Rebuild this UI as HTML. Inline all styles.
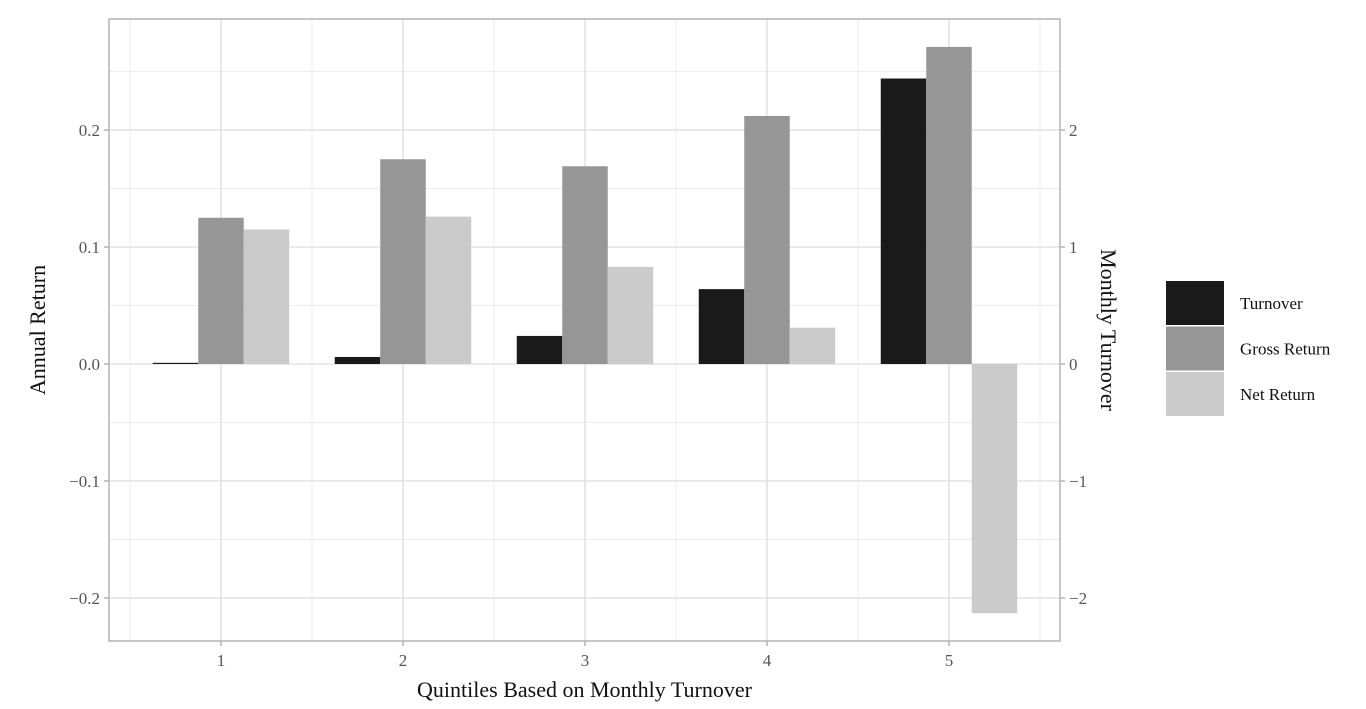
<!DOCTYPE html>
<html><head><meta charset="utf-8"><style>
body{margin:0;background:#fff;}
svg{display:block;font-family:"Liberation Serif",serif;}
</style></head><body>
<svg id="chart" width="1366" height="709" viewBox="0 0 1366 709"></svg>
<script>
const categories=["1","2","3","4","5"];
const turnover=[0.01,0.06,0.24,0.64,2.44];
const grossReturn=[0.125,0.175,0.169,0.212,0.271];
const netReturn=[0.115,0.126,0.083,0.031,-0.213];
const leftTicks=[-0.2,-0.1,0.0,0.1,0.2];
const leftTickLabels=["\u22120.2","\u22120.1","0.0","0.1","0.2"];
const rightTicks=[-2,-1,0,1,2];
const rightTickLabels=["\u22122","\u22121","0","1","2"];
const seriesNames=["Turnover","Gross Return","Net Return"];
const colors=["#1a1a1a","#969696","#cbcbcb"];
const NS="http://www.w3.org/2000/svg";
const svg=document.getElementById('chart');
const P={l:109,r:1060,t:19,b:641};
const y0=364, pxPer=1170; // pixels per unit of annual return
const yL=v=>y0-v*pxPer;
const yR=v=>yL(v/10);
const step=182, x1=221;
const xC=i=>x1+i*step;
function mk(tag,attrs,parent){const e=document.createElementNS(NS,tag);for(const k in attrs)e.setAttribute(k,attrs[k]);(parent||svg).appendChild(e);return e;}
// panel background
const bg=mk('rect',{x:P.l,y:P.t,width:P.r-P.l,height:P.b-P.t,fill:'#fff'});


// minor gridlines
for(let i=0;i<leftTicks.length;i++){
  const m=leftTicks[i]+0.05;const yy=yL(m);
  if(yy>P.t&&yy<P.b){const g=mk('line',{x1:P.l,x2:P.r,y1:yy,y2:yy,stroke:'#ececec','stroke-width':1});
  
  }
}
{const yy=yL(-0.25);if(yy<P.b){}}
for(let i=0;i<=categories.length;i++){
  const xx=xC(i)-step/2;
  const g=mk('line',{x1:xx,x2:xx,y1:P.t,y2:P.b,stroke:'#ececec','stroke-width':1});
  
  
}
// major gridlines
leftTicks.forEach((t,i)=>{
  const g=mk('line',{x1:P.l,x2:P.r,y1:yL(t),y2:yL(t),stroke:'#e3e3e3','stroke-width':1.6});
  
  
});
categories.forEach((c,i)=>{
  const g=mk('line',{x1:xC(i),x2:xC(i),y1:P.t,y2:P.b,stroke:'#e3e3e3','stroke-width':1.6});
  
  
});
// bars
const bw=45.5;
const series=[turnover.map(v=>v/10),grossReturn,netReturn];
series.forEach((vals,s)=>{
  vals.forEach((v,i)=>{
    const x=xC(i)-1.5*bw+s*bw;
    const ya=yL(Math.max(v,0)), yb=yL(Math.min(v,0));
    const r=mk('rect',{x:x,y:ya,width:bw,height:Math.max(yb-ya,1),fill:colors[s]});
    
    
  });
});
// border
const bd=mk('rect',{x:P.l,y:P.t,width:P.r-P.l,height:P.b-P.t,fill:'none',stroke:'#b3b3b3','stroke-width':1.5});


// left ticks
leftTicks.forEach((t,i)=>{
  const tk=mk('line',{x1:P.l-5,x2:P.l,y1:yL(t),y2:yL(t),stroke:'#b3b3b3','stroke-width':1.5});
  
  
  const tx=mk('text',{x:P.l-9,y:yL(t)+6,'text-anchor':'end','font-size':17,fill:'#555'});
  tx.textContent=leftTickLabels[i];
  
  
});
rightTicks.forEach((t,i)=>{
  const tk=mk('line',{x1:P.r,x2:P.r+5,y1:yR(t),y2:yR(t),stroke:'#b3b3b3','stroke-width':1.5});
  
  
  const tx=mk('text',{x:P.r+9,y:yR(t)+6,'text-anchor':'start','font-size':17,fill:'#555'});
  tx.textContent=rightTickLabels[i];
  
  
});
categories.forEach((c,i)=>{
  const tk=mk('line',{x1:xC(i),x2:xC(i),y1:P.b,y2:P.b+5,stroke:'#b3b3b3','stroke-width':1.5});
  
  
  const tx=mk('text',{x:xC(i),y:P.b+25,'text-anchor':'middle','font-size':17,fill:'#555'});
  tx.textContent=c;
  
  
});
// axis titles
const xt=mk('text',{x:(P.l+P.r)/2,y:697,'text-anchor':'middle','font-size':22,fill:'#111'});
xt.textContent='Quintiles Based on Monthly Turnover';


const yt=mk('text',{x:0,y:0,'text-anchor':'middle','font-size':22,fill:'#111',transform:'translate(45,330) rotate(-90)'});
yt.textContent='Annual Return';


const yt2=mk('text',{x:0,y:0,'text-anchor':'middle','font-size':22,fill:'#111',transform:'translate(1101,330) rotate(90)'});
yt2.textContent='Monthly Turnover';


// legend
seriesNames.forEach((n,i)=>{
  const yy=281+i*45.5;
  const k=mk('rect',{x:1166,y:yy,width:58,height:44,fill:colors[i]});
  
  
  const t=mk('text',{x:1240,y:yy+28,'font-size':17,fill:'#111'});
  t.textContent=n;
  
  
});
</script>
</body></html>
